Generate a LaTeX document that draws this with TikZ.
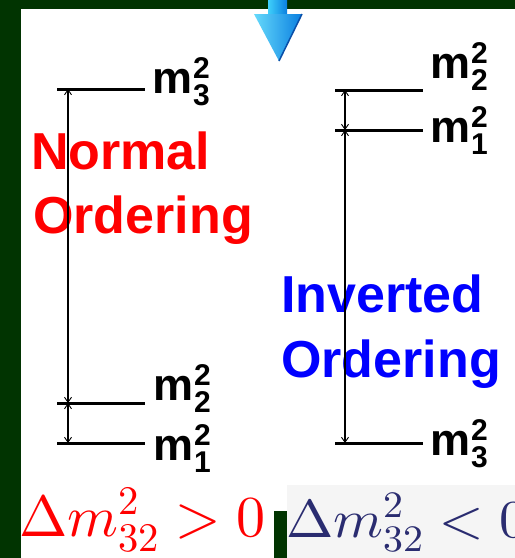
\documentclass[tikz,border=0pt]{standalone}
\usepackage{fontspec}
\usepackage{unicode-math}
\setsansfont{Liberation Sans}
\usetikzlibrary{arrows.meta}
\definecolor{bggreen}{HTML}{013401}
\definecolor{normred}{HTML}{FF0000}
\definecolor{invblue}{HTML}{0000FF}
\definecolor{navyf}{HTML}{2A2C70}
\definecolor{arrcyan}{HTML}{3FD0FA}
\definecolor{arrblue}{HTML}{0A7FE0}
\definecolor{arrdark}{HTML}{0A4FA8}
\newcommand{\mlev}[1]{m\hspace{1pt}\rlap{\raisebox{15pt}{\fontsize{30}{30}\selectfont 2}}\raisebox{-12pt}{\fontsize{30}{30}\selectfont #1}}
\begin{document}
\begin{tikzpicture}[x=1pt,y=-1pt,
  level/.style={line width=3pt,black},
  gap/.style={line width=1.1pt,black,{Straight Barb[length=5pt,width=7pt,line width=0.9pt]}-{Straight Barb[length=5pt,width=7pt,line width=0.9pt]}},
  mlabel/.style={anchor=base west,inner sep=0pt,font=\sffamily\bfseries\fontsize{45}{45}\selectfont},
  ordtext/.style={anchor=base west,inner sep=0pt,font=\sffamily\bfseries\fontsize{52}{52}\selectfont},
  formula/.style={anchor=base west,inner sep=0pt,font=\fontsize{58}{58}\selectfont}]
\useasboundingbox (0,0) rectangle (515,558);
% backgrounds
\fill[bggreen] (0,0) rectangle (515,558);
\fill[white] (21,9) rectangle (515,511);
\fill[white] (21,485) rectangle (274,558);
\fill[black!4] (287,485) rectangle (515,558);
% top arrow
\shade[left color=arrcyan,right color=arrblue] (268,0) rectangle (287,15);
\shade[left color=arrcyan!80!white,right color=arrblue] (254,14) -- (302,14) -- (279,61) -- cycle;
\draw[arrdark,line width=1.5pt] (302,14) -- (279,61);
% texts
\node[ordtext,text=normred] (n1) at (31,169) {Normal};
\node[ordtext,text=normred] (n2) at (33,233) {Ordering};
\node[ordtext,text=invblue] (i1) at (281,312) {Inverted};
\node[ordtext,text=invblue] (i2) at (281,377) {Ordering};
% left (normal) levels
\coordinate (N3) at (68,89);
\coordinate (N2) at (68,403);
\coordinate (N1) at (68,443);
\draw[level] (57,89) -- (145,89);
\draw[level] (57,403) -- (145,403);
\draw[level] (57,443) -- (145,443);
\draw[gap] (N3) -- (N2);
\draw[gap] (N2) -- (N1);
\node[mlabel] (lm3) at (152,93) {\mlev{3}};
\node[mlabel] (lm2) at (153,400) {\mlev{2}};
\node[mlabel] (lm1) at (153,460) {\mlev{1}};
% right (inverted) levels
\coordinate (I2) at (345,90);
\coordinate (I1) at (345,130);
\coordinate (I3) at (345,443);
\draw[level] (335,90) -- (423,90);
\draw[level] (335,130) -- (423,130);
\draw[level] (335,443) -- (423,443);
\draw[gap] (I2) -- (I1);
\draw[gap] (I1) -- (I3);
\node[mlabel] (rm2) at (430,78) {\mlev{2}};
\node[mlabel] (rm1) at (430,142) {\mlev{1}};
\node[mlabel] (rm3) at (430,455) {\mlev{3}};
% formulas
\node[formula,text=normred] (fl) at (19,536) {$\Delta m^2_{32} > 0$};
\begin{scope}
\clip (287,485) rectangle (515,558);
\node[formula,text=navyf,xscale=0.98,yscale=0.92] (fr) at (286,537) {$\Delta m^2_{32} < 0$};
\end{scope}
\end{tikzpicture}
\end{document}
